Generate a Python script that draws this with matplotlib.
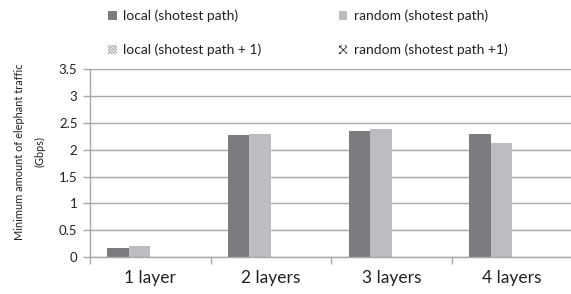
import matplotlib
matplotlib.use("Agg")
import matplotlib.pyplot as plt
from matplotlib.patches import Patch
import numpy as np

plt.rcParams['font.family'] = ['Lato', 'DejaVu Sans']
plt.rcParams['hatch.linewidth'] = 0.6

categories = ['1 layer', '2 layers', '3 layers', '4 layers']
local_sp = [0.18, 2.28, 2.35, 2.29]
random_sp = [0.2, 2.29, 2.38, 2.13]
local_sp1 = [0, 0, 0, 0]
random_sp1 = [0, 0, 0, 0]

series = [
    ('local (shotest path)', local_sp, '#7b7c80', None, None),
    ('random (shotest path)', random_sp, '#bcbdc1', None, None),
    ('local (shotest path + 1)', local_sp1, 'white', '\\' * 12, '#8a8a8a'),
    ('random (shotest path +1)', random_sp1, 'white', 'x' * 5, '#333333'),
]

grid_c = '#a8a8a8'
text_c = '#222222'

fig = plt.figure(figsize=(5.71, 2.94), dpi=100)
ax = fig.add_axes([0.1576, 0.125, 0.845, 0.64])

x = np.arange(len(categories))
w = 0.178
handles = []
for j, (name, vals, color, hatch, hc) in enumerate(series):
    ax.bar(x + (j - 1.5) * w, vals, width=w, color=color, hatch=hatch,
           edgecolor=hc if hatch else color, linewidth=0)
    handles.append(Patch(facecolor=color, hatch=hatch,
                         edgecolor=hc if hatch else color,
                         linewidth=0, label=name))

ax.set_xlim(-0.5, len(categories) - 0.5)
ax.set_ylim(0, 3.5)
ax.set_yticks(np.arange(0, 3.51, 0.5))
ax.set_yticklabels(['0', '0.5', '1', '1.5', '2', '2.5', '3', '3.5'], fontsize=9.5)
ax.yaxis.grid(True, color=grid_c, linewidth=1)
ax.set_axisbelow(True)

ax.set_xticks(x)
ax.set_xticklabels(categories, fontsize=12.5)
ax.tick_params(axis='x', length=0, pad=9, labelcolor=text_c)
ax.set_xticks(np.arange(len(categories) + 1) - 0.5, minor=True)
ax.tick_params(axis='x', which='minor', length=5, color=grid_c, width=1)
ax.tick_params(axis='y', length=5, color=grid_c, width=1, pad=4, labelcolor=text_c)

for s in ['top', 'right']:
    ax.spines[s].set_visible(False)
for s in ['left', 'bottom']:
    ax.spines[s].set_color(grid_c)
    ax.spines[s].set_linewidth(1)

fig.text(0.035, 0.485, 'Minimum amount of elephant traffic', rotation=90,
         ha='center', va='center', fontsize=7.9, color=text_c)
fig.text(0.07, 0.485, '(Gbps)', rotation=90, ha='center', va='center',
         fontsize=7.9, color=text_c)

# row-wise order for a 2-column legend
order = [0, 2, 1, 3]
fig.legend(handles=[handles[i] for i in order], ncol=2, loc='upper left',
           bbox_to_anchor=(0.19, 0.967), frameon=False, fontsize=10,
           borderpad=0, borderaxespad=0,
           handlelength=0.6, handleheight=0.6, handletextpad=0.45,
           columnspacing=5.6, labelspacing=1.55, labelcolor=text_c)

fig.savefig('out.png', dpi=100)
